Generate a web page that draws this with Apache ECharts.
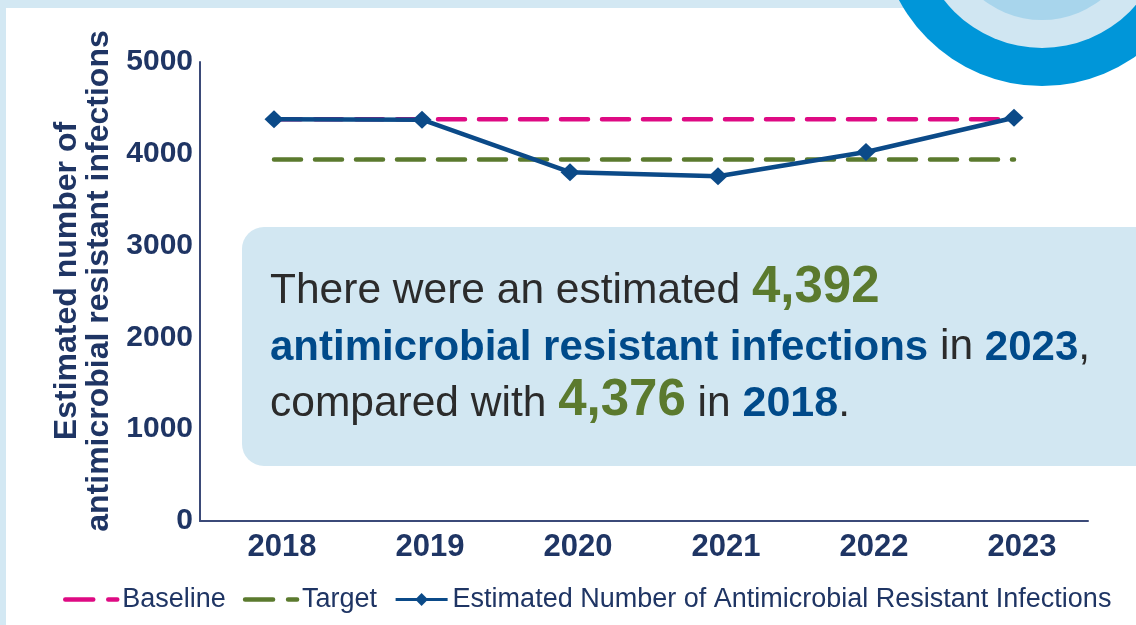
<!DOCTYPE html>
<html>
<head>
<meta charset="utf-8">
<script src="https://cdn.jsdelivr.net/npm/echarts@6/dist/echarts.min.js"></script>
<style>
  html, body { margin: 0; padding: 0; background: #d3e8f3; }
  #chart { width: 1136px; height: 625px; }
</style>
</head>
<body>
<div id="chart"></div>
<script>
// Antimicrobial resistant infections, 2018-2023
const years = ['2018', '2019', '2020', '2021', '2022', '2023'];
const estimatedInfections = [4376, 4372, 3800, 3755, 4020, 4392];
const baseline = [4376, 4376, 4376, 4376, 4376, 4376];
const target = [3938, 3938, 3938, 3938, 3938, 3938];

const NAVY = '#1f3564';
const BLUE = '#0b4a88';
const PINK = '#de0a83';
const GREEN = '#5b7a2e';
const FONT = '"Liberation Sans", Arial, Helvetica, sans-serif';

const chart = echarts.init(document.getElementById('chart'), null, { renderer: 'canvas' });

// legend entries for the dashed reference lines: line only, no marker
const dashedLegendItem = (name) => ({
  name,
  itemStyle: { opacity: 0 },
  lineStyle: { type: [28, 15], width: 4.5, cap: 'round' }
});

const option = {
  backgroundColor: '#d3e8f3',
  animation: false,
  textStyle: { fontFamily: FONT },
  grid: { left: 200, right: 48, top: 62, bottom: 104, containLabel: false },
  xAxis: {
    type: 'category',
    data: years,
    boundaryGap: true,
    axisTick: { show: false },
    axisLine: { lineStyle: { color: '#3b4a78', width: 2 } },
    axisLabel: {
      color: NAVY, fontFamily: FONT, fontSize: 31, fontWeight: 'bold',
      margin: 11, padding: [0, 0, 0, 16]
    }
  },
  yAxis: {
    type: 'value',
    min: 0, max: 5000, interval: 1000,
    name: 'Estimated number of\nantimicrobial resistant infections',
    nameLocation: 'middle',
    nameGap: 84,
    nameTextStyle: {
      color: NAVY, fontFamily: FONT, fontSize: 32, fontWeight: 'bold',
      lineHeight: 32, padding: [0, 0, 0, 21]
    },
    splitLine: { show: false },
    axisTick: { show: false },
    axisLine: { show: true, lineStyle: { color: '#3b4a78', width: 2 } },
    axisLabel: {
      color: NAVY, fontFamily: FONT, fontSize: 30, fontWeight: 'bold', margin: 7,
      formatter: (v) => String(v)
    }
  },
  legend: {
    left: 58, top: 581,
    itemWidth: 52, itemHeight: 16, itemGap: 17,
    lineStyle: { width: 4 },
    textStyle: { color: NAVY, fontFamily: FONT, fontSize: 27 },
    data: [
      dashedLegendItem('Baseline'),
      dashedLegendItem('Target'),
      { name: 'Estimated Number of Antimicrobial Resistant Infections', lineStyle: { width: 3 } }
    ]
  },
  series: [
    {
      name: 'Baseline', type: 'line', data: baseline,
      symbol: 'none', z: 2,
      itemStyle: { color: PINK },
      lineStyle: { color: PINK, width: 4.5, type: [27, 14], cap: 'round' }
    },
    {
      name: 'Target', type: 'line', data: target,
      symbol: 'none', z: 2,
      itemStyle: { color: GREEN },
      lineStyle: { color: GREEN, width: 4.5, type: [27, 14], cap: 'round' }
    },
    {
      name: 'Estimated Number of Antimicrobial Resistant Infections', type: 'line',
      data: estimatedInfections,
      symbol: 'diamond', symbolSize: [19, 18], z: 3,
      itemStyle: { color: BLUE },
      lineStyle: { color: BLUE, width: 4.5 }
    }
  ],
  graphic: [
    // white page panel inside the light blue frame
    { type: 'rect', z: -10, silent: true, shape: { x: 6, y: 8, width: 1140, height: 630 }, style: { fill: '#ffffff' } },
    // decorative rings in the top-right corner
    { type: 'circle', z: -9, silent: true, shape: { cx: 1042, cy: -76, r: 162 }, style: { fill: '#0096d9' } },
    { type: 'circle', z: -9, silent: true, shape: { cx: 1042, cy: -76, r: 124 }, style: { fill: '#d0e6f2' } },
    { type: 'circle', z: -9, silent: true, shape: { cx: 1042, cy: -76, r: 96 }, style: { fill: '#a8d5ec' } },
    // summary callout
    { type: 'rect', z: 5, silent: true, shape: { x: 242, y: 227, width: 940, height: 239, r: 22 }, style: { fill: '#d2e7f2' } },
    {
      type: 'text', z: 6, silent: true, x: 270, y: 313,
      style: {
        text: '{t|There were an estimated }{g|4,392}',
        verticalAlign: 'bottom', align: 'left',
        rich: {
          t: { fontFamily: FONT, fontSize: 42.5, fill: '#2b2b2b', verticalAlign: 'bottom' },
          g: { fontFamily: FONT, fontSize: 51, fontWeight: 'bold', fill: GREEN, verticalAlign: 'bottom' }
        }
      }
    },
    {
      type: 'text', z: 6, silent: true, x: 270, y: 369,
      style: {
        text: '{b|antimicrobial resistant infections}{t| in }{b|2023}{t|,}',
        verticalAlign: 'bottom', align: 'left',
        rich: {
          t: { fontFamily: FONT, fontSize: 42.5, fill: '#2b2b2b', verticalAlign: 'bottom' },
          b: { fontFamily: FONT, fontSize: 42, fontWeight: 'bold', fill: '#004a8a', verticalAlign: 'bottom' }
        }
      }
    },
    {
      type: 'text', z: 6, silent: true, x: 270, y: 426,
      style: {
        text: '{t|compared with }{g|4,376}{t| in }{b|2018}{t|.}',
        verticalAlign: 'bottom', align: 'left',
        rich: {
          t: { fontFamily: FONT, fontSize: 42.5, fill: '#2b2b2b', verticalAlign: 'bottom' },
          g: { fontFamily: FONT, fontSize: 51, fontWeight: 'bold', fill: GREEN, verticalAlign: 'bottom' },
          b: { fontFamily: FONT, fontSize: 43, fontWeight: 'bold', fill: '#004a8a', verticalAlign: 'bottom' }
        }
      }
    }
  ]
};

chart.setOption(option);
</script>
</body>
</html>
